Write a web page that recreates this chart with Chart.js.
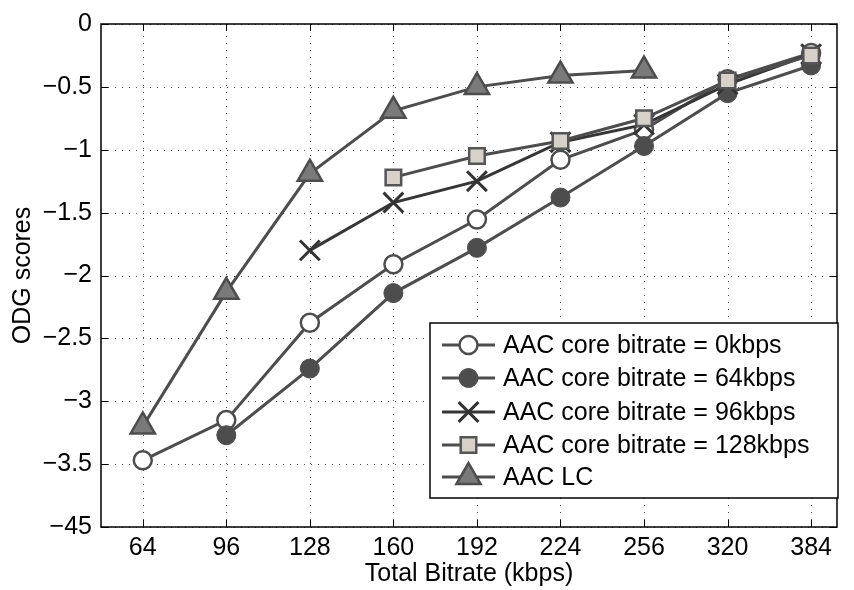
<!DOCTYPE html>
<html>
<head>
<meta charset="utf-8">
<script src="https://cdn.jsdelivr.net/npm/chart.js@4.4.1/dist/chart.umd.min.js"></script>
<style>
html, body { margin: 0; padding: 0; background: #fff; }
</style>
</head>
<body>
<canvas id="chart" width="854" height="590"></canvas>
<script>
// values
const categories = ['64', '96', '128', '160', '192', '224', '256', '320', '384'];
const core0 = [-3.47, -3.15, -2.375, -1.91, -1.555, -1.08, -0.84, -0.44, -0.23];
const core64 = [null, -3.27, -2.74, -2.14, -1.78, -1.38, -0.97, -0.55, -0.33];
const core96 = [null, null, -1.80, -1.42, -1.25, -0.94, -0.80, -0.48, -0.24];
const core128 = [null, null, null, -1.22, -1.05, -0.93, -0.75, -0.45, -0.25];
const aacLC = [-3.20, -2.13, -1.19, -0.69, -0.50, -0.41, -0.37, null, null];
const seriesLabels = ['AAC core bitrate = 0kbps', 'AAC core bitrate = 64kbps',
    'AAC core bitrate = 96kbps', 'AAC core bitrate = 128kbps', 'AAC LC'];
const yTickValues = [0, -0.5, -1, -1.5, -2, -2.5, -3, -3.5, -4];
const yTickLabels = ['0', '\u22120.5', '\u22121', '\u22121.5', '\u22122', '\u22122.5', '\u22123', '\u22123.5', '\u221245'];

const FONT = 'Liberation Sans, Arial, sans-serif';
const FSIZE = 25;
const LINE = '#4d4d4d';

function toPoints(values) {
    return values.map((v, i) => ({ x: i + 1, y: v }));
}

const styles = [
    { pointStyle: 'circle', radius: 9, bg: '#ffffff', border: LINE, bw: 2.5, line: LINE, lw: 3 },
    { pointStyle: 'circle', radius: 9.5, bg: LINE, border: LINE, bw: 1, line: LINE, lw: 3 },
    { pointStyle: 'crossRot', radius: 14, bg: '#333333', border: '#333333', bw: 3, line: '#363636', lw: 3 },
    { pointStyle: 'rect', radius: 11, bg: '#d6d2ca', border: '#555555', bw: 2.5, line: LINE, lw: 3 },
    { pointStyle: 'triangle', radius: 14, bg: '#7a7a7a', border: LINE, bw: 2.5, line: LINE, lw: 3 }
];
const seriesData = [core0, core64, core96, core128, aacLC];

const datasets = seriesData.map((vals, i) => ({
    label: seriesLabels[i],
    data: toPoints(vals),
    borderColor: styles[i].line,
    borderWidth: styles[i].lw,
    pointStyle: styles[i].pointStyle,
    pointRadius: styles[i].radius,
    pointBackgroundColor: styles[i].bg,
    pointBorderColor: styles[i].border,
    pointBorderWidth: styles[i].bw,
    tension: 0,
    fill: false,
    order: 4 - i
}));

// dotted grid, box and inward ticks like the original plot
const frame = {
    id: 'frame',
    beforeDatasetsDraw(chart) {
        const { ctx, chartArea: a, scales: { x, y } } = chart;
        ctx.save();
        ctx.strokeStyle = 'rgba(0,0,0,0.7)';
        ctx.lineWidth = 1;
        ctx.setLineDash([1, 6]);
        x.ticks.forEach(t => {
            const px = Math.round(x.getPixelForValue(t.value)) + 0.5;
            ctx.beginPath(); ctx.moveTo(px, a.bottom); ctx.lineTo(px, a.top); ctx.stroke();
        });
        y.ticks.forEach(t => {
            const py = Math.round(y.getPixelForValue(t.value)) + 0.5;
            ctx.beginPath(); ctx.moveTo(a.left, py); ctx.lineTo(a.right, py); ctx.stroke();
        });
        ctx.restore();
    },
    afterDatasetsDraw(chart) {
        const { ctx, chartArea: a, scales: { x, y } } = chart;
        ctx.save();
        ctx.strokeStyle = '#000';
        ctx.lineWidth = 1.5;
        ctx.strokeRect(a.left, a.top, a.right - a.left, a.bottom - a.top);
        ctx.lineWidth = 1;
        const len = 7;
        x.ticks.forEach(t => {
            const px = Math.round(x.getPixelForValue(t.value)) + 0.5;
            ctx.beginPath();
            ctx.moveTo(px, a.bottom); ctx.lineTo(px, a.bottom - len);
            ctx.moveTo(px, a.top); ctx.lineTo(px, a.top + len);
            ctx.stroke();
        });
        y.ticks.forEach(t => {
            const py = Math.round(y.getPixelForValue(t.value)) + 0.5;
            ctx.beginPath();
            ctx.moveTo(a.left, py); ctx.lineTo(a.left + len, py);
            ctx.moveTo(a.right, py); ctx.lineTo(a.right - len, py);
            ctx.stroke();
        });
        ctx.restore();
    }
};

// legend box drawn by hand inside the plot
const boxLegend = {
    id: 'boxLegend',
    afterDraw(chart) {
        const ctx = chart.ctx;
        const left = 430, top = 323, right = 838, bottom = 498;
        const rows = [345, 378, 412, 445, 477];
        ctx.save();
        ctx.fillStyle = '#fff';
        ctx.fillRect(left, top, right - left, bottom - top);
        ctx.strokeStyle = '#000';
        ctx.lineWidth = 1.5;
        ctx.strokeRect(left, top, right - left, bottom - top);
        seriesLabels.forEach((lab, i) => {
            const s = styles[i];
            const yy = rows[i];
            ctx.strokeStyle = s.line;
            ctx.lineWidth = s.lw;
            ctx.setLineDash([]);
            ctx.beginPath(); ctx.moveTo(442, yy); ctx.lineTo(495, yy); ctx.stroke();
            ctx.fillStyle = s.bg;
            ctx.strokeStyle = s.border;
            ctx.lineWidth = s.bw;
            Chart.helpers.drawPoint(ctx, { pointStyle: s.pointStyle, radius: s.radius, rotation: 0, borderWidth: s.bw }, 468.5, yy);
            ctx.fillStyle = '#000';
            ctx.font = FSIZE + 'px ' + FONT;
            ctx.textBaseline = 'middle';
            ctx.textAlign = 'left';
            ctx.fillText(lab, 503, yy + 1);
        });
        ctx.restore();
    }
};

const ctx = document.getElementById('chart').getContext('2d');
new Chart(ctx, {
    type: 'line',
    data: { datasets: datasets },
    options: {
        responsive: false,
        animation: false,
        devicePixelRatio: 1,
        layout: { padding: { left: 0, right: 8, top: 15, bottom: 0 } },
        plugins: { legend: { display: false }, tooltip: { enabled: false } },
        scales: {
            x: {
                type: 'linear',
                min: 0.5,
                max: 9.31,
                afterBuildTicks: s => { s.ticks = categories.map((c, i) => ({ value: i + 1 })); },
                afterFit: s => { s.height = 63; },
                grid: { display: false, drawTicks: false },
                border: { display: false },
                ticks: {
                    autoSkip: false,
                    maxRotation: 0,
                    padding: 6,
                    color: '#000',
                    font: { family: FONT, size: FSIZE },
                    callback: v => categories[v - 1]
                },
                title: {
                    display: true,
                    text: 'Total Bitrate (kbps)',
                    color: '#000',
                    font: { family: FONT, size: FSIZE },
                    padding: { top: 0, bottom: 1 }
                }
            },
            y: {
                min: -4,
                max: 0,
                afterBuildTicks: s => { s.ticks = yTickValues.map(v => ({ value: v })); },
                afterFit: s => { s.width = 101; },
                grid: { display: false, drawTicks: false },
                border: { display: false },
                ticks: {
                    padding: 9,
                    color: '#000',
                    font: { family: FONT, size: FSIZE },
                    callback: v => yTickLabels[yTickValues.indexOf(v)]
                },
                title: {
                    display: true,
                    text: 'ODG scores',
                    color: '#000',
                    font: { family: FONT, size: FSIZE },
                    padding: { top: 8, bottom: 0 }
                }
            }
        }
    },
    plugins: [frame, boxLegend]
});
</script>
</body>
</html>
